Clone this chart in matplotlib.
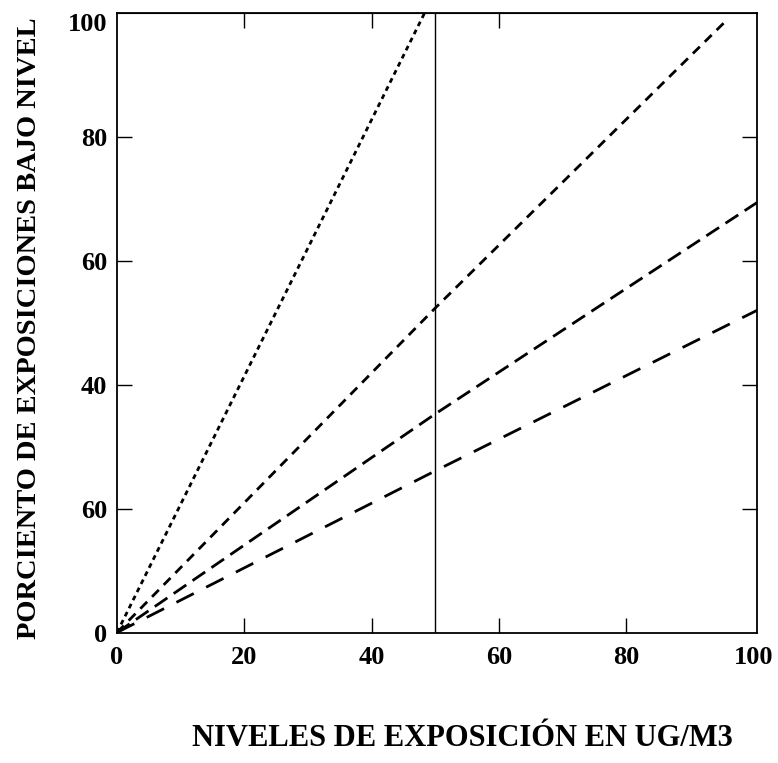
"""Porcentaje de exposiciones bajo nivel contra niveles de exposicion (ug/m3)."""

import matplotlib
matplotlib.use("Agg")
import matplotlib.pyplot as plt

plt.rcParams["font.family"] = ["Liberation Serif", "DejaVu Serif"]
plt.rcParams["lines.scale_dashes"] = False

# datos
x_punteada = [0, 48.3]
y_punteada = [0, 100]
x_corta = [0, 50, 95.3]
y_corta = [0, 52.4, 98.4]
x_media = [0, 50, 100.5]
y_media = [0, 35.3, 69.4]
x_larga = [0, 50, 100.5]
y_larga = [0, 26.1, 52.0]

x_ticks = [0, 20, 40, 60, 80, 100]
x_ticks_arriba = [20, 40, 60]
y_ticks = [0, 20, 40, 60, 80, 100]
y_labels = ["0", "60", "40", "60", "80", "100"]  # tal como aparece en el original
x_ref = 50

fig = plt.figure(figsize=(7.78, 7.63), dpi=100)
ax = fig.add_axes([117 / 778, 130.5 / 763, 640 / 778, 619.5 / 763])

ax.plot(x_punteada, y_punteada, color="black", lw=2.0, linestyle=(0, (3.5, 3)))
ax.plot(x_corta, y_corta, color="black", lw=2.0, linestyle=(0, (7, 5)))
ax.plot(x_media, y_media, color="black", lw=2.0, linestyle=(0, (11, 5.5)))
ax.plot(x_larga, y_larga, color="black", lw=2.0, linestyle=(0, (14, 10)))
ax.axvline(x_ref, color="black", lw=1.0)

ax.set_xlim(0, 100.5)
ax.set_ylim(0, 100)
ax.set_xticks(x_ticks)
ax.set_yticks(y_ticks)
ax.set_yticklabels(y_labels)
ax.tick_params(direction="in", length=11, width=1.0, right=True, labelsize=19)
ax.tick_params(axis="x", pad=10)
ax.tick_params(axis="y", pad=7)
for lab in ax.get_xticklabels() + ax.get_yticklabels():
    lab.set_fontweight("bold")
for lw_spine in ax.spines.values():
    lw_spine.set_linewidth(1.3)

# sin marcas en los extremos (0 y 100)
for t in (ax.xaxis.get_major_ticks()[0], ax.xaxis.get_major_ticks()[-1],
          ax.yaxis.get_major_ticks()[0], ax.yaxis.get_major_ticks()[-1]):
    t.tick1line.set_visible(False)
    t.tick2line.set_visible(False)
ax.get_yticklabels()[-1].set_verticalalignment("top")

arriba = ax.secondary_xaxis("top")
arriba.set_xticks(x_ticks_arriba)
arriba.set_xticklabels([])
arriba.tick_params(direction="in", length=11, width=1.0)

fig.text(30 / 778, 1 - 328 / 763, "PORCIENTO DE EXPOSICIONES BAJO NIVEL",
         rotation=90, ha="center", va="center", fontsize=20.5, fontweight="bold")
fig.text(462 / 778, 1 - 739 / 763, "NIVELES DE EXPOSICIÓN EN UG/M3",
         ha="center", va="center", fontsize=22, fontweight="bold")

fig.savefig("out.png", dpi=100)
